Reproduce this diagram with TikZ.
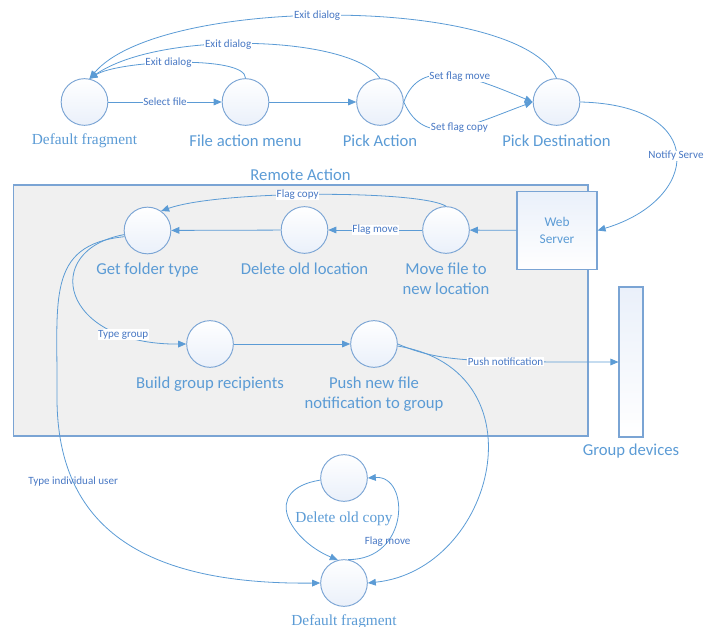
\documentclass[tikz,border=0pt]{standalone}
\usepackage{fontspec}
\setmainfont{Carlito}
\newfontfamily\capserif{Liberation Serif}
\usetikzlibrary{arrows.meta, positioning}
\definecolor{myblue}{RGB}{91,155,213}
\definecolor{mytext}{RGB}{72,120,196}
\definecolor{myedge}{RGB}{122,164,212}
\definecolor{hdrblue}{RGB}{234,240,250}
\definecolor{boxgray}{RGB}{240,240,240}
\tikzset{
  state/.style={circle, draw=myedge, top color=white, bottom color=hdrblue,
    minimum size=35pt, inner sep=0pt, line width=0.7pt},
  capt/.style={font=\fontsize{12.5}{15.5}\selectfont, text=myblue,
    align=center, inner sep=1pt},
  sercapt/.style={font=\capserif\fontsize{11.5}{14}\selectfont, text=myblue,
    inner sep=1pt},
  lbl/.style={font=\fontsize{8.3}{10}\selectfont, text=mytext, fill=white,
    inner sep=0.5pt},
  server/.style={rectangle, draw=myedge, top color=hdrblue, bottom color=white,
    minimum width=60pt, minimum height=59pt, align=center, text=myblue,
    font=\fontsize{10}{12.75}\selectfont, line width=0.8pt},
  container/.style={rectangle, draw=myedge, fill=boxgray, line width=1pt},
  devbar/.style={rectangle, draw=myedge, top color=hdrblue, bottom color=white,
    minimum width=18pt, minimum height=112.5pt, line width=0.8pt},
  arrow/.style={-{Triangle[length=6pt,width=5pt]}, line width=0.6pt, color=myblue},
  line/.style={line width=0.6pt, color=myblue}
}

\begin{document}
\begin{tikzpicture}[x=0.75pt, y=-0.75pt]
  \useasboundingbox (0,0) rectangle (710,627);

  % remote action container
  \node[container, minimum width=431pt, minimum height=188pt] (ra) at (300.5,310.5) {};
  \node[capt, above=2pt of ra] (ratxt) {Remote Action};

  % top row
  \node[state] (df) at (84.5,102) {};
  \node[sercapt, below=4.5pt of df] (dftxt) {Default fragment};
  \node[state] (fam) at (245.5,102) {};
  \node[capt, below=6pt of fam] (famtxt) {File action menu};
  \node[state] (pa) at (380,102) {};
  \node[capt, below=6pt of pa] (patxt) {Pick Action};
  \node[state] (pd) at (556.5,102) {};
  \node[capt, below=6pt of pd] (pdtxt) {Pick Destination};

  % inside remote action
  \node[server] (ws) at (557,230.5) {Web\\Server};
  \node[state] (mf) at (446,230) {};
  \node[capt, below=5.5pt of mf] (mftxt) {Move file to\\new location};
  \node[state] (dol) at (304.5,230) {};
  \node[capt, below=5.5pt of dol] (doltxt) {Delete old location};
  \node[state] (gft) at (147.5,230.5) {};
  \node[capt, below=5.5pt of gft] (gfttxt) {Get folder type};
  \node[state] (bgr) at (210,344) {};
  \node[capt, below=5.5pt of bgr] (bgrtxt) {Build group recipients};
  \node[state] (push) at (374,344) {};
  \node[capt, below=5.5pt of push] (pushtxt) {Push new file\\notification to group};

  % group devices
  \node[devbar] (gd) at (631,362) {};
  \node[capt, below=3.5pt of gd] (gdtxt) {Group devices};

  % bottom
  \node[state] (doc) at (344,478) {};
  \node[sercapt, below=6.5pt of doc] (doctxt) {Delete old copy};
  \node[state] (df2) at (344,583) {};
  \node[sercapt, below=4.5pt of df2] (df2txt) {Default fragment};

  % top connectors
  \draw[arrow] (df) -- node[lbl] {Select file} (fam);
  \draw[arrow] (fam) -- (pa);
  \draw[arrow] (fam.north) .. controls (246,55) and (120,60) .. (df.78)
    node[lbl, pos=0.55] {Exit dialog};
  \draw[arrow] (pa.north) .. controls (350,35) and (160,30) .. (df.78)
    node[lbl, pos=0.56] {Exit dialog};
  \draw[arrow] (pd.north) .. controls (520,-5) and (160,-5) .. (df.78)
    node[lbl, pos=0.53] {Exit dialog};
  \draw[arrow] (pa.east) .. controls (420,55) and (475,78) .. (pd.west)
    node[lbl, pos=0.55] {Set flag move};
  \draw[arrow] (pa.east) .. controls (425,150) and (470,125) .. (pd.west)
    node[lbl, pos=0.55] {Set flag copy};
  \draw[arrow] (pd.east) .. controls (710,105) and (700,200) .. (ws.east)
    node[lbl, pos=0.5] {Notify Serve};

  % remote action connectors
  \draw[arrow] (ws) -- (mf);
  \draw[arrow] (mf) -- node[lbl] {Flag move} (dol);
  \draw[arrow] (dol) -- (gft);
  \draw[arrow] (mf.north) .. controls (420,190) and (220,190) .. (gft.55)
    node[lbl, pos=0.55] {Flag copy};
  \draw[arrow] (gft.190) .. controls (40,250) and (60,345) .. (bgr.west)
    node[lbl, pos=0.8] {Type group};
  \draw[arrow] (bgr) -- (push);
  \draw[arrow] (push.east) .. controls (440,362) and (470,362) .. (gd.west)
    node[lbl, pos=0.67] {Push notification};

  % down to default fragment
  \draw[arrow] (gft.195) .. controls (45,245) and (58,300) .. (57,400)
    .. controls (58,525) and (140,585) .. (df2.west)
    node[lbl, fill=none, pos=0.25] {Type individual user};
  \draw[arrow] (push.-5) .. controls (545,370) and (495,570) .. (df2.east);
  \draw[arrow] (doc.185) .. controls (260,490) and (290,540) .. (df2.105);
  \draw[arrow] (df2.80) .. controls (410,560) and (410,475) .. (doc.east)
    node[lbl, fill=none, pos=0.3] {Flag move};
\end{tikzpicture}
\end{document}
